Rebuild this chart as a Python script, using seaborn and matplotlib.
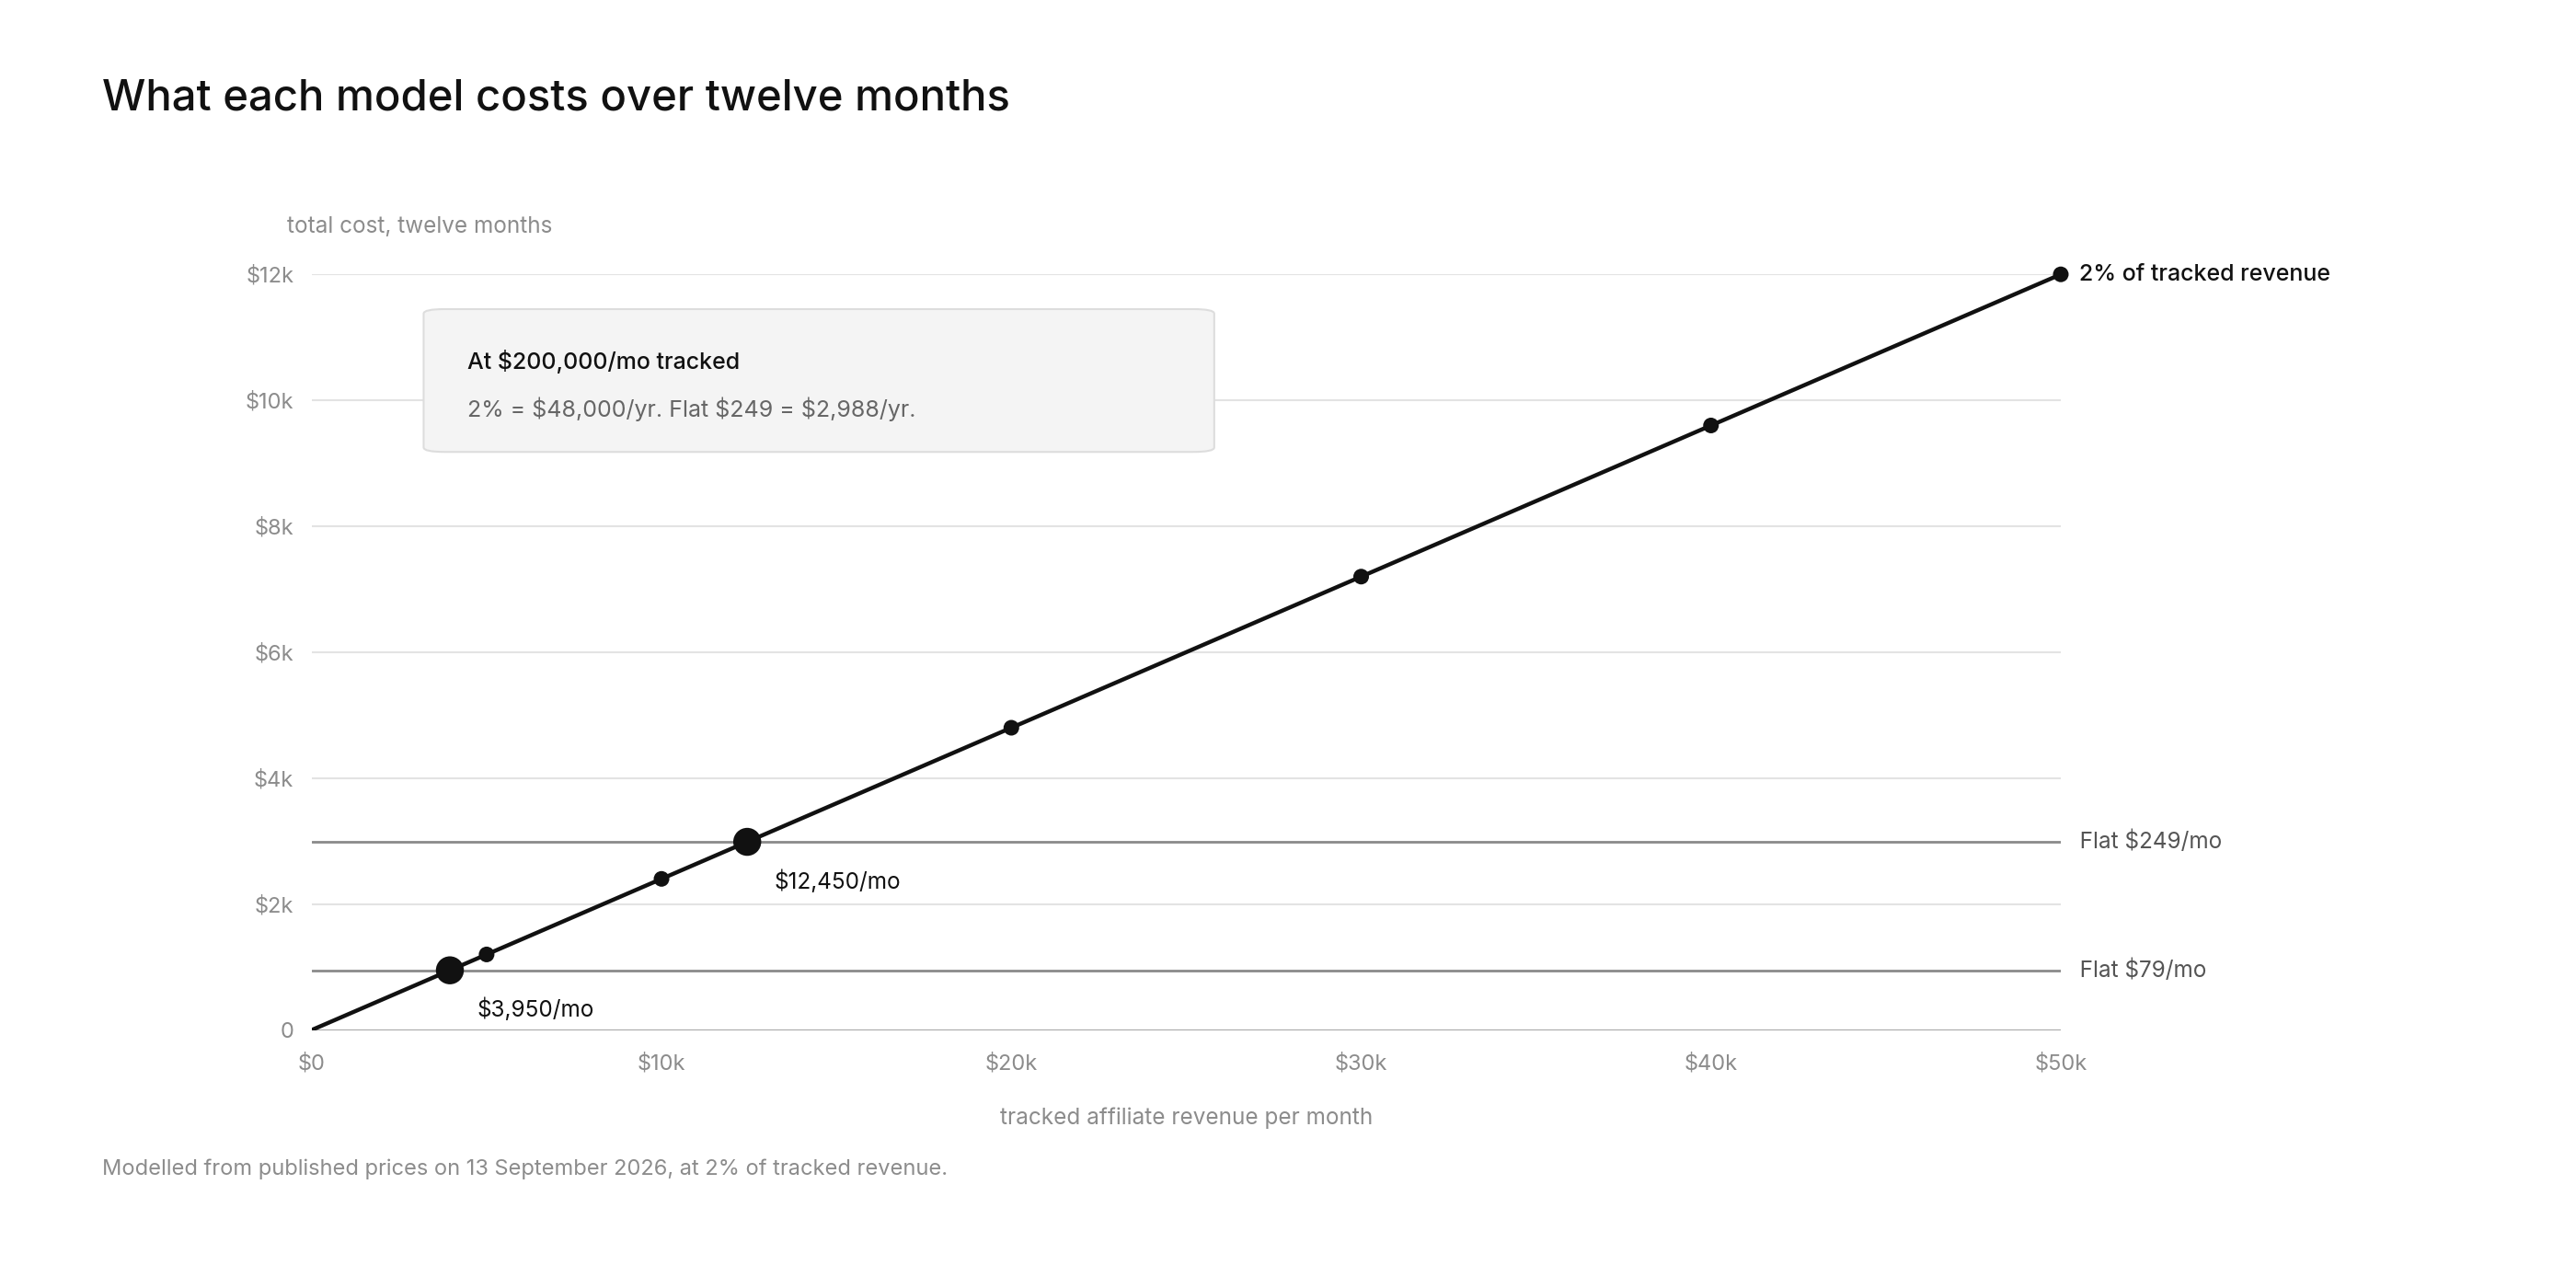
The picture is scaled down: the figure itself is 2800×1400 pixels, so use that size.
import matplotlib
matplotlib.use("Agg")
import matplotlib.pyplot as plt
import seaborn as sns
import pandas as pd
from matplotlib.patches import FancyBboxPatch

revenue = [0, 5000, 10000, 20000, 30000, 40000, 50000]
cost_pct = [0, 1200, 2400, 4800, 7200, 9600, 12000]
flat_79 = 948
flat_249 = 2988
break_x = [3950, 12450]
break_y = [948, 2988]
break_labels = ["$3,950/mo", "$12,450/mo"]
xticks = [0, 10000, 20000, 30000, 40000, 50000]
xtick_labels = ["$0", "$10k", "$20k", "$30k", "$40k", "$50k"]
yticks = [0, 2000, 4000, 6000, 8000, 10000, 12000]
ytick_labels = ["0", "$2k", "$4k", "$6k", "$8k", "$10k", "$12k"]

sns.set_theme(style="white")
plt.rcParams['font.family'] = ['Inter', 'DejaVu Sans']

fig = plt.figure(figsize=(28, 14), dpi=100)
ax = fig.add_axes([0.121, 0.2003, 0.679, 0.5867])
df = pd.DataFrame({"x": revenue, "y": cost_pct})

for t in yticks[1:]:
    ax.axhline(t, color="#e3e3e3", lw=1.5, zorder=0)
ax.axhline(0, color="#999999", lw=2, zorder=1)
ax.axhline(flat_79, color="#8a8a8a", lw=2, zorder=1)
ax.axhline(flat_249, color="#8a8a8a", lw=2, zorder=1)

sns.lineplot(data=df, x="x", y="y", ax=ax, color="#111111", lw=3.2, zorder=3)
sns.scatterplot(data=df.iloc[1:], x="x", y="y", ax=ax, color="#111111", s=150,
                edgecolor="none", zorder=4, clip_on=False)
sns.scatterplot(x=break_x, y=break_y, ax=ax, color="#111111", s=480,
                edgecolor="none", zorder=5)
for bx, by, lab in zip(break_x, break_y, break_labels):
    ax.annotate(lab, (bx, by), xytext=(21, -31), textcoords="offset points",
                fontsize=17.5, color="#111111", va="center")

ax.set_xlim(0, 50000)
ax.set_ylim(0, 12000)
ax.set_xticks(xticks)
ax.set_xticklabels(xtick_labels)
ax.set_yticks(yticks)
ax.set_yticklabels(ytick_labels)
ax.tick_params(axis="x", length=0, labelsize=17, labelcolor="#8c8c8c", pad=18)
ax.tick_params(axis="y", length=0, labelsize=17, labelcolor="#8c8c8c", pad=14)
for s in ax.spines.values():
    s.set_visible(False)
ax.set_xlabel("tracked affiliate revenue per month", fontsize=17.5, color="#8c8c8c", labelpad=26)
ax.set_ylabel("")

ax.text(50000, 12000, "   2% of tracked revenue", fontsize=18, color="#111111",
        va="center", ha="left", clip_on=False, fontweight="medium")
ax.text(50000, flat_249, "   Flat $249/mo", fontsize=17.5, color="#555555",
        va="center", ha="left", clip_on=False)
ax.text(50000, flat_79, "   Flat $79/mo", fontsize=17.5, color="#555555",
        va="center", ha="left", clip_on=False)

box = FancyBboxPatch((0.064, 0.765), 0.452, 0.189, transform=ax.transAxes,
                     boxstyle="round,pad=0,rounding_size=0.012",
                     facecolor="#f4f4f4", edgecolor="#dddddd", lw=1.5, zorder=6,
                     mutation_aspect=0.5)
ax.add_patch(box)
ax.text(0.089, 0.885, "At $200,000/mo tracked", transform=ax.transAxes,
        fontsize=18, color="#111111", va="center", zorder=7, fontweight="medium")
ax.text(0.089, 0.822, "2% = $48,000/yr. Flat $249 = $2,988/yr.", transform=ax.transAxes,
        fontsize=18, color="#666666", va="center", zorder=7)

fig.text(0.0395, 0.923, "What each model costs over twelve months", fontsize=34,
         color="#111111", va="center", ha="left", fontweight="medium")
fig.text(0.1116, 0.824, "total cost, twelve months", fontsize=17.5, color="#8c8c8c",
         va="center", ha="left")
fig.text(0.0395, 0.092, "Modelled from published prices on 13 September 2026, at 2% of tracked revenue.",
         fontsize=17, color="#8c8c8c", va="center", ha="left")

fig.savefig("out.png", dpi=100, facecolor="white")
